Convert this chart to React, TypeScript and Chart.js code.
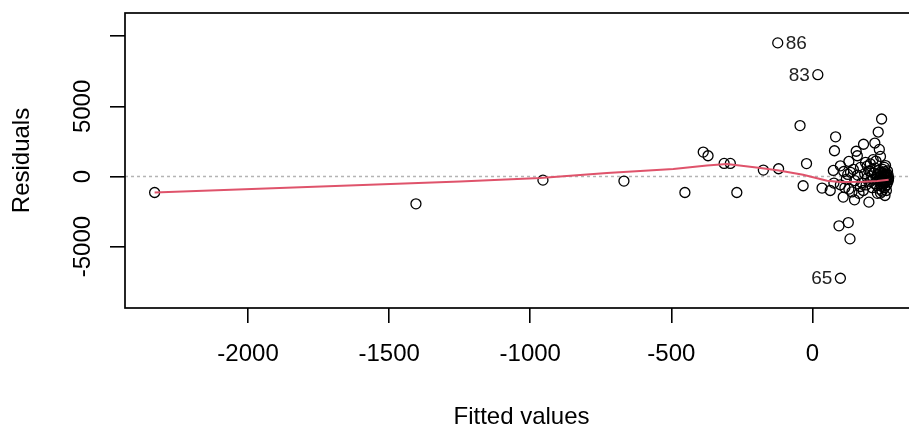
import React, { useEffect, useRef } from "react";
import { Chart, registerables } from "chart.js";

Chart.register(...registerables);

// Fitted values (x) and residuals (y)
const fitted: number[] = [
  -2331, -1405, -955, -668, -452, -387, -370, -313, -291, -268, -174, -120,
  -123, 19, -44, 245, 233, 82, 78, -21, -33, 34, 63, 181, 155, 159, 221, 237,
  241, 129, 99, 194, 259, 74, 111, 206, 109, 149, 200, 257, 94, 127, 133, 99,
  99, 129, 170, 241, 76,
  150, 160, 175, 185, 190, 195, 200, 205, 210, 212, 215, 218, 220, 222, 225,
  228, 230, 232, 235, 236, 238, 240, 242, 243, 245, 246, 248, 249, 250, 251,
  252, 253, 254, 255, 256, 257, 258, 259, 260, 261, 262, 263, 264, 265, 266,
  267, 268, 269, 270, 262, 120, 135, 140, 165, 180, 145, 170, 115, 125, 188,
  215, 205, 225, 230, 255, 247,
];
const residuals: number[] = [
  -1143, -1950, -260, -330, -1143, 1740, 1480, 930, 930, -1143, 455, 550,
  9529, 7264, 3630, 4100, 3170, 2830, 1836, 920, -660, -829, -1000, 2300, 1800,
  1480, 2386, 1930, 1429, 1071, 760, 740, 780, 429, 357, 357, -1471, -1664,
  -1829, -1357, -3521, -3286, -4450, -7257, -593, -900, -714, -1186, -471,
  -300, 100, -450, 200, -600, -100, 400, -350, 50, -800, -200, 250, -500, 600,
  -50, -650, 150, -300, 450, -150, -900, 0, 300, -400, -700, 100, -250, 500,
  -100, -550, 200, -350, 50, -800, 350, -200, -450, 150, -50, -300, 250, -600,
  0, -150, 400, -400, 100, -250, -100, -1000, -200, 300, -1100, -1200, -1000,
  500, 650, -800, 150, 1000, 1200, 900, 1100, -1200, 650, -1050,
];

// Smoother (lowess) curve
const smoothX: number[] = [-2331, -1249, -965, -728, -493, -374, -303, -184, -119, -33, 52, 99, 180, 230, 270];
const smoothY: number[] = [-1143, -357, -114, 243, 529, 786, 886, 600, 429, 121, -307, -400, -380, -330, -236];

// Labelled extreme points
const idLabels: string[] = ["86", "83", "65"];
const idIndex: number[] = [12, 13, 43];
const idSide: string[] = ["right", "left", "left"];

const xTicks: number[] = [-2000, -1500, -1000, -500, 0];
const yTicks: number[] = [-5000, 0, 5000, 10000];
const yTickLabels: string[] = ["-5000", "0", "5000", ""];

const X_MIN = -2436;
const X_MAX = 374;
const Y_MIN = -9380;
const Y_MAX = 11660;

const FONT = "'Liberation Sans', Arial, sans-serif";

export default function App() {
  const ref = useRef<HTMLCanvasElement | null>(null);

  useEffect(() => {
    if (!ref.current) return;
    const points = fitted.map((x, i) => ({ x, y: residuals[i] }));
    const smooth = smoothX.map((x, i) => ({ x, y: smoothY[i] }));

    const overlay = {
      id: "overlay",
      beforeDatasetsDraw(chart: any) {
        const { ctx, chartArea, scales } = chart;
        const y0 = scales.y.getPixelForValue(0);
        ctx.save();
        ctx.strokeStyle = "#b4b4b4";
        ctx.lineWidth = 1.5;
        ctx.setLineDash([3, 3]);
        ctx.beginPath();
        ctx.moveTo(chartArea.left, y0);
        ctx.lineTo(chartArea.right, y0);
        ctx.stroke();
        ctx.restore();
      },
      afterDatasetsDraw(chart: any) {
        const { ctx, chartArea, scales } = chart;
        ctx.save();
        ctx.strokeStyle = "#000";
        ctx.lineWidth = 1.7;
        ctx.strokeRect(chartArea.left, chartArea.top, chartArea.right - chartArea.left, chartArea.bottom - chartArea.top);
        ctx.fillStyle = "#222";
        ctx.font = `19px ${FONT}`;
        ctx.textBaseline = "middle";
        idLabels.forEach((lab, k) => {
          const i = idIndex[k];
          const px = scales.x.getPixelForValue(fitted[i]);
          const py = scales.y.getPixelForValue(residuals[i]);
          if (idSide[k] === "right") {
            ctx.textAlign = "left";
            ctx.fillText(lab, px + 8, py + 1);
          } else {
            ctx.textAlign = "right";
            ctx.fillText(lab, px - 8, py + 1);
          }
        });
        ctx.restore();
      },
    };

    const chart = new Chart(ref.current, {
      type: "scatter",
      data: {
        datasets: [
          {
            type: "line",
            data: smooth,
            borderColor: "#DF536B",
            borderWidth: 2,
            pointRadius: 0,
            fill: false,
            tension: 0,
            order: 0,
          } as any,
          {
            data: points,
            pointRadius: 5,
            pointBorderWidth: 1.3,
            borderColor: "#000",
            backgroundColor: "rgba(0,0,0,0)",
            order: 1,
          },
        ],
      },
      options: {
        responsive: false,
        animation: false,
        devicePixelRatio: 1,
        layout: { padding: { top: 13, right: 7, bottom: 0, left: 0 } },
        plugins: { legend: { display: false }, tooltip: { enabled: false } },
        scales: {
          x: {
            type: "linear",
            min: X_MIN,
            max: X_MAX,
            afterBuildTicks: (s: any) => {
              s.ticks = xTicks.map((v) => ({ value: v }));
            },
            afterFit: (s: any) => {
              s.height = 124;
            },
            grid: { display: true, drawOnChartArea: false, drawTicks: true, tickLength: 15, color: "#000", lineWidth: 1.6 },
            border: { display: false },
            ticks: {
              color: "#000",
              font: { family: FONT, size: 24 },
              padding: 17,
              maxRotation: 0,
              callback: (v: any) => String(v),
            },
            title: {
              display: true,
              text: "Fitted values",
              color: "#000",
              font: { family: FONT, size: 24, lineHeight: 1 },
              padding: { top: 0, bottom: 3 },
            },
          },
          y: {
            type: "linear",
            min: Y_MIN,
            max: Y_MAX,
            afterBuildTicks: (s: any) => {
              s.ticks = yTicks.map((v) => ({ value: v }));
            },
            afterFit: (s: any) => {
              s.width = 125;
            },
            grid: { display: true, drawOnChartArea: false, drawTicks: true, tickLength: 15, color: "#000", lineWidth: 1.6 },
            border: { display: false },
            ticks: {
              color: "#000",
              font: { family: FONT, size: 24 },
              padding: -4,
              minRotation: 90,
              maxRotation: 90,
              crossAlign: "center",
              callback: (v: any) => {
                const k = yTicks.indexOf(Number(v));
                return k >= 0 ? yTickLabels[k] : "";
              },
            },
            title: {
              display: true,
              text: "Residuals",
              color: "#000",
              font: { family: FONT, size: 24, lineHeight: 1 },
              padding: { top: 10, bottom: 0 },
            },
          },
        },
      },
      plugins: [overlay],
    } as any);

    return () => chart.destroy();
  }, []);

  return (
    <div style={{ position: "absolute", left: 0, top: 0, width: 909, height: 432, overflow: "hidden", background: "#fff" }}>
      <canvas ref={ref} width={925} height={432} style={{ display: "block", width: 925, height: 432 }} />
    </div>
  );
}
